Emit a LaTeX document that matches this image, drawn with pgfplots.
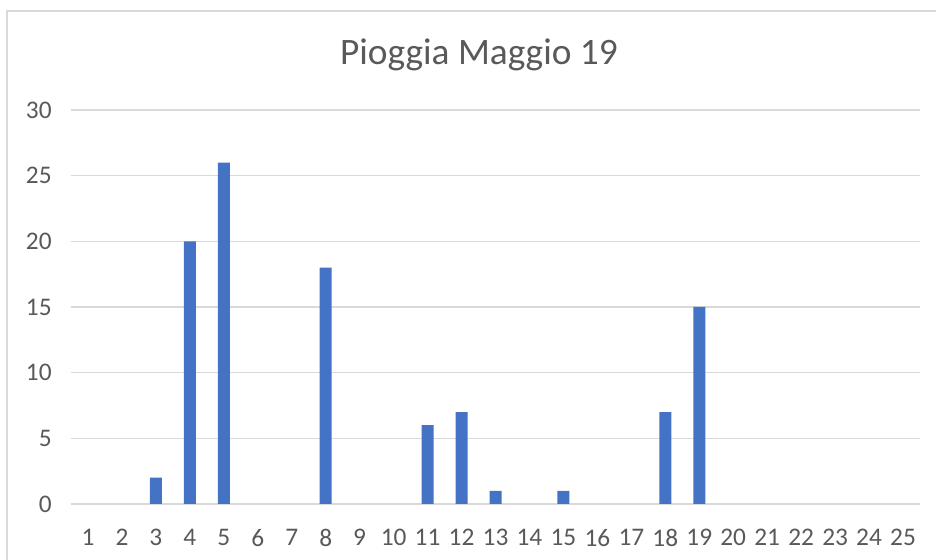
\documentclass[border=0pt]{standalone}
\usepackage{pgfplots}
\pgfplotsset{compat=1.18}
\usepackage{fontspec}
\setmainfont{Carlito}
\definecolor{barblue}{HTML}{4472C4}
\definecolor{gridgray}{HTML}{D9D9D9}
\definecolor{textgray}{HTML}{595959}
\definecolor{framegray}{HTML}{D9D9D9}
\begin{document}
\begin{tikzpicture}
\useasboundingbox (0,0) rectangle (702pt,420pt);
\draw[framegray, line width=1pt] (5.25pt,-1pt) -- (5.25pt,411.75pt) -- (703pt,411.75pt);
\node[text=textgray, font=\fontsize{28}{33}\selectfont] at (359.25pt,378.5pt) {Pioggia Maggio 19};
\begin{axis}[
  at={(53.25pt,42pt)}, anchor=south west,
  scale only axis, width=636.75pt, height=295.5pt,
  xmin=0.5, xmax=25.5, ymin=0, ymax=30,
  xtick={1,...,25}, ytick={0,5,...,30},
  ymajorgrids, grid style={gridgray, line width=0.9pt},
  axis line style={draw=none}, tick style={draw=none},
  ybar, bar width=9pt,
  /pgf/number format/assume math mode=true,
  ticklabel style={text=textgray, font=\fontsize{19}{22}\selectfont},
  yticklabel style={xshift=-11pt},
  xticklabel style={yshift=-11pt},
]
\addplot[fill=barblue, draw=none] coordinates {
(3,2) (4,20) (5,26) (8,18)
(11,6) (12,7) (13,1) (15,1) (18,7) (19,15)};
\end{axis}
\end{tikzpicture}
\end{document}
